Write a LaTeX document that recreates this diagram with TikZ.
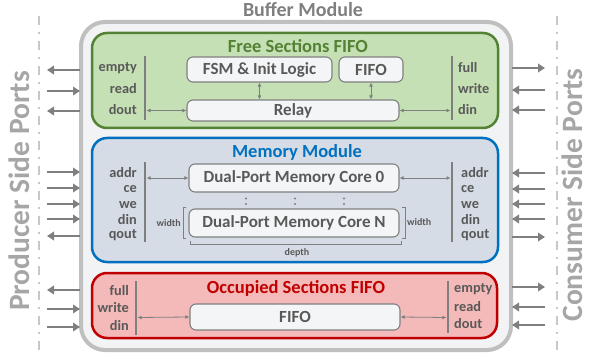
\documentclass[tikz,border=0pt]{standalone}
\usepackage{fontspec}
\setmainfont{Carlito}
\usetikzlibrary{arrows.meta}
\definecolor{lblgray}{HTML}{595959}
\definecolor{arrgray}{HTML}{7F7F7F}
\definecolor{outerline}{HTML}{BFBFBF}
\definecolor{outerfill}{HTML}{F2F3F5}
\definecolor{gline}{HTML}{548235}
\definecolor{gfill}{HTML}{C5E0B4}
\definecolor{bline}{HTML}{0070C0}
\definecolor{bfill}{HTML}{D6DCE5}
\definecolor{rline}{HTML}{C00000}
\definecolor{rfill}{HTML}{F4B9B9}
\definecolor{boxfill}{HTML}{F4F5F7}
\definecolor{sidegray}{HTML}{A6A6A6}
\definecolor{dashgray}{HTML}{C8C8C8}
\begin{document}
\begin{tikzpicture}[x=1pt,y=-1pt,
  inbox/.style={draw=arrgray,fill=boxfill,line width=1.1pt,rounded corners=6pt,
    text=lblgray,font=\bfseries\fontsize{17}{18}\selectfont,inner sep=0pt},
  lbl/.style={text=lblgray,font=\bfseries\fontsize{14.3}{15}\selectfont,inner sep=0pt},
  small/.style={text=lblgray,font=\bfseries\fontsize{10}{11}\selectfont,inner sep=0pt},
  sectitle/.style={font=\bfseries\fontsize{18.5}{19}\selectfont,inner sep=0pt},
  port/.style={draw=arrgray,line width=2.6pt,-{Triangle[length=7pt,width=8.5pt]}},
  dbl/.style={draw=arrgray,line width=0.8pt,{Latex[length=4pt,width=4pt]}-{Latex[length=4pt,width=4pt]}},
  bar/.style={draw=arrgray,line width=2.8pt},
  sect/.style={line width=2.5pt,rounded corners=15pt},
  sidetxt/.style={text=sidegray,font=\bfseries\fontsize{29.5}{30}\selectfont,rotate=90,inner sep=0pt,anchor=base},
  dashln/.style={draw=dashgray,line width=2.5pt,dash pattern=on 9pt off 7pt on 2pt off 7pt},
  brk/.style={draw=arrgray,line width=0.8pt}
]
\useasboundingbox (0,0) rectangle (589,358);

% side dashed lines and texts
\draw[dashln] (39,16) coordinate (dl1) -- (39,356) coordinate (dl2);
\draw[dashln] (557,16) coordinate (dr1) -- (557,356) coordinate (dr2);
\node[sidetxt] (prod) at (29,191) {Producer Side Ports};
\node[sidetxt] (cons) at (582,195) {Consumer Side Ports};

% title and outer box
\node[text=arrgray,font=\bfseries\fontsize{20}{21}\selectfont,inner sep=0pt] (title) at (303,9.5) {Buffer Module};
\draw[draw=outerline,fill=outerfill,line width=4pt,rounded corners=24pt] (81,22) rectangle (511,350);

% section boxes
\draw[sect,draw=gline,fill=gfill] (92,33) rectangle (498,128);
\draw[sect,draw=bline,fill=bfill] (92,138) rectangle (498,262);
\draw[sect,draw=rline,fill=rfill] (92,273) rectangle (497,338);

\node[sectitle,text=gline] (gt) at (298,46) {Free Sections FIFO};
\node[sectitle,text=bline] (bt) at (297,152) {Memory Module};
\node[sectitle,text=rline] (rt) at (296,288) {Occupied Sections FIFO};

% ---------- Free sections FIFO
\node[inbox,minimum width=145pt,minimum height=25pt] (fsm) at (259.5,69.5) {FSM \& Init Logic};
\node[inbox,minimum width=64pt,minimum height=25pt] (ffifo) at (371,69.5) {FIFO};
\node[inbox,minimum width=212pt,minimum height=21pt] (relay) at (293,110.5) {Relay};
\draw[dbl] (fsm.south) -- (fsm.south |- relay.north);
\draw[dbl] (ffifo.south) -- (ffifo.south |- relay.north);
\draw[bar] (145,56) coordinate (gbl1) -- (145,120) coordinate (gbl2);
\draw[bar] (452,56) coordinate (gbr1) -- (452,120) coordinate (gbr2);
\draw[dbl] (146.5,110.5) -- (relay.west);
\draw[dbl] (relay.east) -- (450.5,110.5);
\node[lbl,anchor=east] (l1) at (137,68) {empty};
\node[lbl,anchor=east] (l2) at (137,89) {read};
\node[lbl,anchor=east] (l3) at (137,110) {dout};
\node[lbl,anchor=west] (r1) at (458,68) {full};
\node[lbl,anchor=west] (r2) at (458,89) {write};
\node[lbl,anchor=west] (r3) at (458,110) {din};
\draw[port] (80,70) -- (47,70);
\draw[port] (47,91) -- (80,91);
\draw[port] (80,111) -- (47,111);
\draw[port] (512,68) -- (545,68);
\draw[port] (545,90) -- (512,90);
\draw[port] (545,110) -- (512,110);

% ---------- Memory module
\node[inbox,minimum width=210pt,minimum height=28pt] (core0) at (294,178) {Dual-Port Memory Core 0};
\node[inbox,minimum width=210pt,minimum height=28pt] (coreN) at (294,223) {Dual-Port Memory Core N};
\foreach \x in {246,295,344}{
  \fill[arrgray] (\x,198.5) circle (1.2pt);
  \fill[arrgray] (\x,204) circle (1.2pt);
}
\draw[bar] (145,162) coordinate (bbl1) -- (145,242) coordinate (bbl2);
\draw[bar] (452,162) coordinate (bbr1) -- (452,242) coordinate (bbr2);
\draw[dbl] (146.5,178) -- (core0.west);
\draw[dbl] (core0.east) -- (450.5,178);
\draw[brk] (186,207.5) -- (183,207.5) -- (183,238.5) -- (186,238.5);
\draw[brk] (402,207.5) -- (405,207.5) -- (405,238.5) -- (402,238.5);
\draw[brk] (190,241) -- (190,244) -- (401,244) -- (401,241);
\node[small,anchor=east] (w1) at (181,223) {width};
\node[small,anchor=west] (w2) at (407,222) {width};
\node[small] (dp) at (297,253) {depth};
\foreach \n/\t/\y in {a/addr/173,b/ce/189,c/we/205,d/din/220,e/qout/235}{
  \node[lbl,anchor=east] (ml\n) at (137,\y) {\t};
  \node[lbl,anchor=west] (mr\n) at (461,\y) {\t};
}
\foreach \y in {172,188,204,219}{
  \draw[port] (47,\y) -- (80,\y);
}
\draw[port] (80,236) -- (47,236);
\foreach \y in {173,189,204,219}{
  \draw[port] (545,\y) -- (512,\y);
}
\draw[port] (512,237) -- (545,237);

% ---------- Occupied sections FIFO
\node[inbox,minimum width=210pt,minimum height=26pt] (ofifo) at (295,317) {FIFO};
\draw[bar] (136,281) coordinate (rbl1) -- (136,335) coordinate (rbl2);
\draw[bar] (448,281) coordinate (rbr1) -- (448,333) coordinate (rbr2);
\draw[dbl] (137.5,317.5) -- (ofifo.west);
\draw[dbl] (ofifo.east) -- (446.5,317.5);
\node[lbl,anchor=east] (ol1) at (129,291) {full};
\node[lbl,anchor=east] (ol2) at (129,308) {write};
\node[lbl,anchor=east] (ol3) at (129,326) {din};
\node[lbl,anchor=west] (or1) at (454,289) {empty};
\node[lbl,anchor=west] (or2) at (454,307) {read};
\node[lbl,anchor=west] (or3) at (454,324) {dout};
\draw[port] (80,290) -- (47,290);
\draw[port] (47,309) -- (80,309);
\draw[port] (47,327) -- (80,327);
\draw[port] (512,287) -- (545,287);
\draw[port] (545,307) -- (512,307);
\draw[port] (545,325) -- (512,325);
\end{tikzpicture}
\end{document}
